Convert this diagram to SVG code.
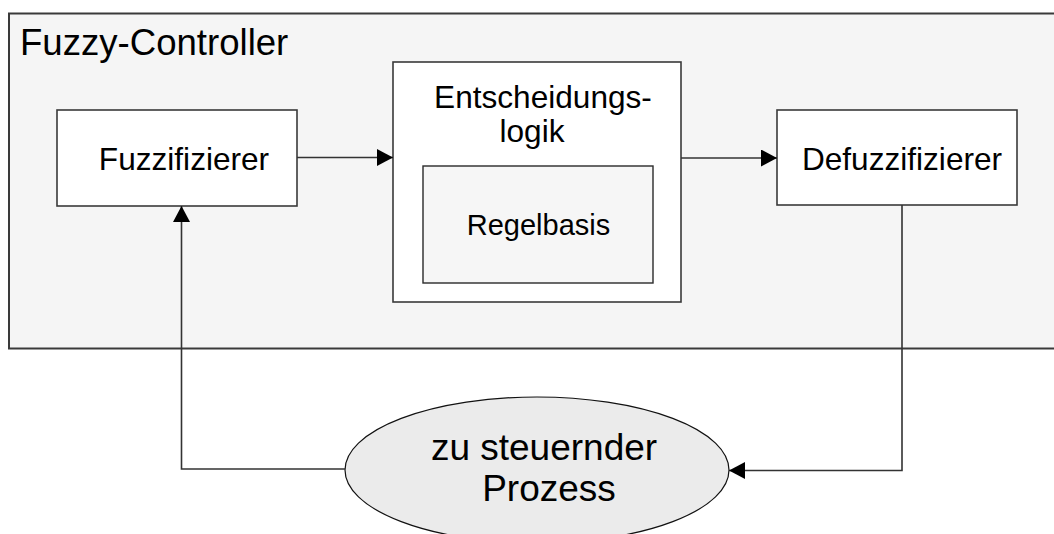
<svg xmlns="http://www.w3.org/2000/svg" width="1054" height="534" viewBox="0 0 1054 534">
<style>
text{font-family:"Liberation Sans",Arial,sans-serif;fill:#000}
.box{fill:#fff;stroke:#3a3a3a;stroke-width:1.6}
.lbl{font-size:31.6px;text-anchor:middle}
.conn{fill:none;stroke:#333;stroke-width:1.6}
</style>
<defs>
<marker id="ah" markerUnits="userSpaceOnUse" markerWidth="18" markerHeight="18" refX="16" refY="8.5" orient="auto">
<path d="M0,0 L16,8.5 L0,17 Z" fill="#000"/>
</marker>
</defs>
<rect width="1054" height="534" fill="#fff"/>
<g id="fuzzy-controller">
<rect x="9" y="13.5" width="1100" height="335" fill="#f5f5f5" stroke="#3a3a3a" stroke-width="2"/>
<text x="20" y="55" font-size="36.6">Fuzzy-Controller</text>
</g>
<g id="fuzzifizierer">
<rect class="box" x="57" y="110" width="240" height="96"/>
<text class="lbl" x="184" y="170">Fuzzifizierer</text>
</g>
<g id="entscheidungslogik">
<rect class="box" x="393" y="62" width="288" height="240"/>
<text class="lbl" x="543" y="108">Entscheidungs-</text>
<text class="lbl" x="532" y="142">logik</text>
</g>
<g id="regelbasis">
<rect x="423" y="166" width="230" height="117" fill="#f6f6f6" stroke="#2a2a2a" stroke-width="1.4"/>
<text x="538.5" y="235" font-size="29" text-anchor="middle">Regelbasis</text>
</g>
<g id="defuzzifizierer">
<rect class="box" x="777" y="110" width="240" height="95"/>
<text class="lbl" x="902" y="170">Defuzzifizierer</text>
</g>
<g id="prozess">
<ellipse cx="537" cy="470" rx="192" ry="73" fill="#ebebeb" stroke="#111" stroke-width="1.2"/>
<text x="544" y="460" font-size="37" text-anchor="middle">zu steuernder</text>
<text x="549" y="501" font-size="37" text-anchor="middle">Prozess</text>
</g>
<g id="connectors">
<path class="conn" d="M297,157.5 H393" marker-end="url(#ah)"/>
<path class="conn" d="M681,158 H777" marker-end="url(#ah)"/>
<path class="conn" d="M902,205 V470.5 H729" marker-end="url(#ah)"/>
<path class="conn" d="M345,469 H181.5 V206" marker-end="url(#ah)"/>
</g>
</svg>
